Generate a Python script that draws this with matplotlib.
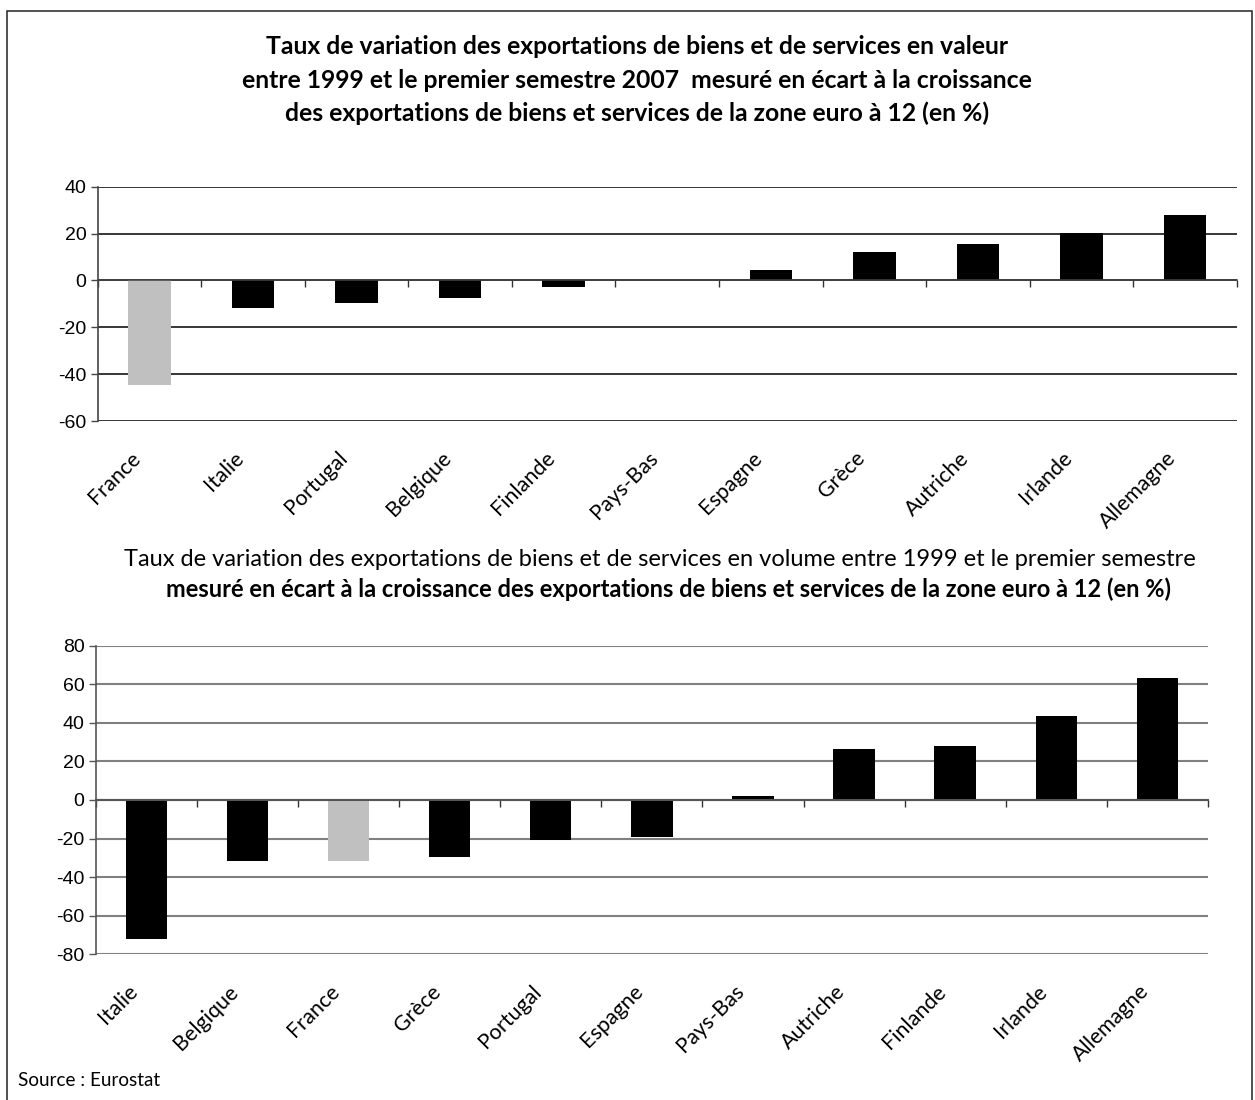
import numpy as np
import matplotlib
matplotlib.use("Agg")
import matplotlib.pyplot as plt
from matplotlib.patches import Rectangle
from matplotlib.transforms import blended_transform_factory, offset_copy

# Export growth in value, gap to euro-area (12) growth, 1999 to H1 2007 (%)
value_countries = ["France", "Italie", "Portugal", "Belgique", "Finlande", "Pays-Bas",
                   "Espagne", "Grèce", "Autriche", "Irlande", "Allemagne"]
value_gap = [-44.7, -11.8, -9.7, -7.5, -2.9, 0.0, 4.4, 12.0, 15.4, 20.2, 28.0]

# Export growth in volume, gap to euro-area (12) growth (%)
volume_countries = ["Italie", "Belgique", "France", "Grèce", "Portugal", "Espagne",
                    "Pays-Bas", "Autriche", "Finlande", "Irlande", "Allemagne"]
volume_gap = [-72.0, -31.7, -31.7, -29.6, -20.8, -19.4, 2.3, 26.2, 28.2, 43.8, 63.4]

value_yticks = [-60, -40, -20, 0, 20, 40]
volume_yticks = [-80, -60, -40, -20, 0, 20, 40, 60, 80]

title_value = ["Taux de variation des exportations de biens et de services en valeur",
               "entre 1999 et le premier semestre 2007  mesuré en écart à la croissance",
               "des exportations de biens et services de la zone euro à 12 (en %)"]
title_volume_1 = ("Taux de variation des exportations de biens et de services en volume "
                  "entre 1999 et le premier semestre")
title_volume_2 = ("mesuré en écart à la croissance des exportations de biens et services "
                  "de la zone euro à 12 (en %)")
source = "Source : Eurostat"

W, H = 1255, 1100
LABEL_FONT = ["Lato", "DejaVu Sans"]
NUM_FONT = ["Liberation Sans", "DejaVu Sans"]


def fx(x):
    return x / W


def fy(y):
    return 1 - y / H


fig = plt.figure(figsize=(W / 100, H / 100), dpi=100)
fig.patch.set_facecolor("white")

# outer frame (open at the bottom)
fig.add_artist(Rectangle((fx(7.3), -0.02), fx(1251.7) - fx(7.3), fy(11) + 0.02,
                         transform=fig.transFigure, fill=False,
                         edgecolor="#222222", lw=1.1, clip_on=False))


def bar_panel(rect, cats, vals, ylim, yticks, grid_color, grid_lw, spine_color):
    ax = fig.add_axes(rect)
    n = len(cats)
    x = np.arange(n)
    colors = ["#C0C0C0" if c == "France" else "black" for c in cats]
    ax.bar(x, vals, width=0.41, color=colors, zorder=3)
    ax.set_xlim(-0.5, n - 0.5)
    ax.set_ylim(*ylim)
    ax.set_yticks(yticks)
    ax.set_yticklabels([str(t) for t in yticks], fontfamily=NUM_FONT, fontsize=14)
    ax.yaxis.grid(True, color=grid_color, lw=grid_lw, zorder=1)
    ax.tick_params(axis="y", direction="out", length=5, width=1.0,
                   color=spine_color, pad=3)
    for s in ("top", "right"):
        ax.spines[s].set_visible(False)
    ax.spines["left"].set_color(spine_color)
    ax.spines["left"].set_linewidth(1.2)
    ax.spines["bottom"].set_position(("data", 0))
    ax.spines["bottom"].set_color(spine_color)
    ax.spines["bottom"].set_linewidth(grid_lw)
    ax.spines["bottom"].set_zorder(4)
    ax.set_xticks(np.arange(-0.5, n, 1.0))
    ax.set_xticklabels([])
    ax.tick_params(axis="x", direction="out", length=5, width=1.0, color="#333333")
    base = blended_transform_factory(ax.transData, ax.transAxes)
    tr = offset_copy(base, fig=fig, x=-12, y=-34, units="dots")
    for i, c in enumerate(cats):
        ax.text(i, 0, c, transform=tr, rotation=45, rotation_mode="anchor",
                ha="right", va="center", fontsize=15.5, fontfamily=LABEL_FONT)
    ax.set_facecolor("none")
    return ax


top_rect = [fx(97.7), fy(421), fx(1236.7) - fx(97.7), fy(186.7) - fy(421)]
bar_panel(top_rect, value_countries, value_gap, (-60, 40), value_yticks,
          "black", 1.1, "#444444")

bot_rect = [fx(95.7), fy(954.3), fx(1208) - fx(95.7), fy(645.7) - fy(954.3)]
bar_panel(bot_rect, volume_countries, volume_gap, (-80, 80), volume_yticks,
          "#808080", 1.5, "#555555")

for k, line in enumerate(title_value):
    fig.text(fx(637), fy(47 + 33 * k), line, ha="center", va="center", fontsize=17.8,
             fontweight="bold", fontfamily=LABEL_FONT)
fig.text(fx(660), fy(560), title_volume_1, ha="center", va="center", fontsize=17,
         fontfamily=LABEL_FONT)
fig.text(fx(668), fy(589), title_volume_2, ha="center", va="center", fontsize=17,
         fontweight="bold", fontfamily=LABEL_FONT)
fig.text(fx(18), fy(1080), source, ha="left", va="center", fontsize=13.6,
         fontfamily=LABEL_FONT)

fig.savefig("out.png", dpi=100, facecolor="white")
